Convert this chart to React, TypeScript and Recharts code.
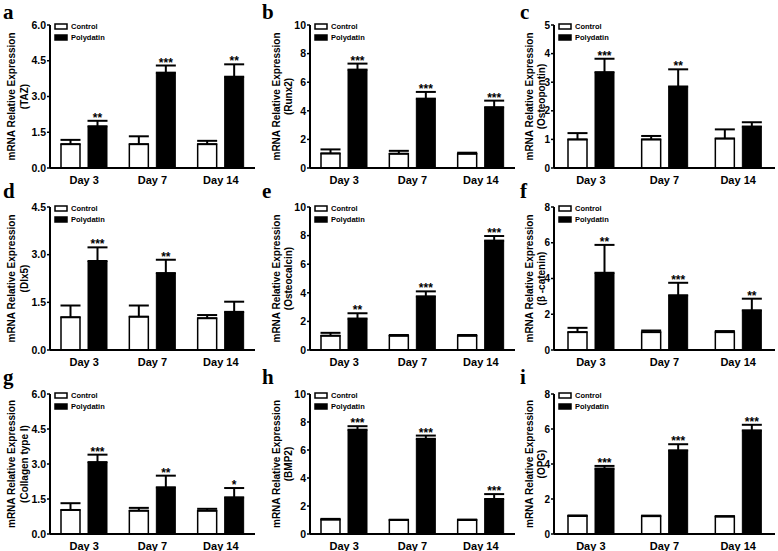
import React from 'react';
import { BarChart, Bar, XAxis, YAxis, ErrorBar, LabelList, Label } from 'recharts';

const DAYS = ['Day 3', 'Day 7', 'Day 14'];

// a - TAZ
const tazControl = [1.0, 1.0, 1.0];
const tazControlErr = [0.18, 0.33, 0.14];
const tazPoly = [1.75, 4.0, 3.83];
const tazPolyErr = [0.23, 0.3, 0.52];
const tazStars = ['**', '***', '**'];
const tazTicks = [0, 1.5, 3, 4.5, 6];

// b - Runx2
const runxControl = [1.02, 1.0, 1.0];
const runxControlErr = [0.28, 0.2, 0.07];
const runxPoly = [6.88, 4.85, 4.25];
const runxPolyErr = [0.42, 0.47, 0.46];
const runxStars = ['***', '***', '***'];
const runxTicks = [0, 2, 4, 6, 8, 10];

// c - Osteopontin
const opnControl = [1.0, 1.0, 1.03];
const opnControlErr = [0.22, 0.12, 0.32];
const opnPoly = [3.35, 2.85, 1.45];
const opnPolyErr = [0.47, 0.6, 0.15];
const opnStars = ['***', '**', ''];
const opnTicks = [0, 1, 2, 3, 4, 5];

// d - Dlx5
const dlxControl = [1.03, 1.05, 1.0];
const dlxControlErr = [0.37, 0.35, 0.1];
const dlxPoly = [2.8, 2.42, 1.2];
const dlxPolyErr = [0.43, 0.42, 0.32];
const dlxStars = ['***', '**', ''];
const dlxTicks = [0, 1.5, 3, 4.5];

// e - Osteocalcin
const ocnControl = [1.0, 1.0, 1.0];
const ocnControlErr = [0.2, 0.05, 0.05];
const ocnPoly = [2.2, 3.75, 7.65];
const ocnPolyErr = [0.37, 0.35, 0.32];
const ocnStars = ['**', '***', '***'];
const ocnTicks = [0, 2, 4, 6, 8, 10];

// f - beta-catenin
const bcatControl = [1.0, 1.0, 1.0];
const bcatControlErr = [0.24, 0.09, 0.06];
const bcatPoly = [4.32, 3.06, 2.22];
const bcatPolyErr = [1.56, 0.7, 0.65];
const bcatStars = ['**', '***', '**'];
const bcatTicks = [0, 2, 4, 6, 8];

// g - Collagen type I
const colControl = [1.03, 1.0, 1.0];
const colControlErr = [0.29, 0.12, 0.08];
const colPoly = [3.08, 2.0, 1.57];
const colPolyErr = [0.32, 0.5, 0.4];
const colStars = ['***', '**', '*'];
const colTicks = [0, 1.5, 3, 4.5, 6];

// h - BMP2
const bmpControl = [1.03, 1.0, 1.0];
const bmpControlErr = [0.05, 0.02, 0.03];
const bmpPoly = [7.45, 6.8, 2.5];
const bmpPolyErr = [0.25, 0.23, 0.35];
const bmpStars = ['***', '***', '***'];
const bmpTicks = [0, 2, 4, 6, 8, 10];

// i - OPG
const opgControl = [1.03, 1.02, 1.0];
const opgControlErr = [0.03, 0.03, 0.02];
const opgPoly = [3.74, 4.78, 5.92];
const opgPolyErr = [0.15, 0.35, 0.32];
const opgStars = ['***', '***', '***'];
const opgTicks = [0, 2, 4, 6, 8];

const FONT = '"Liberation Sans", Arial, sans-serif';

const COLS = [
  { x0: 0, w: 260, axisX: 50, right: 255, l1: 11, l2: 24, letterX: 3, tickFont: 10.5 },
  { x0: 260, w: 258, axisX: 310, right: 515, l1: 276, l2: 288, letterX: 262, tickFont: 10.5 },
  { x0: 518, w: 260, axisX: 554, right: 775, l1: 529, l2: 541, letterX: 520, tickFont: 10 },
];
const ROWS = [
  { y0: 0, top: 25, bottom: 168, letterY: 19 },
  { y0: 182, top: 207, bottom: 350, letterY: 198 },
  { y0: 368, top: 394, bottom: 534, letterY: 384 },
];

const X_AXIS_H = 18;
const EXTRA_BOTTOM = 4;

interface PanelProps {
  col: number;
  row: number;
  gene: string;
  ticks: number[];
  control: number[];
  controlErr: number[];
  poly: number[];
  polyErr: number[];
  stars: string[];
}

function Panel({ col, row, gene, ticks, control, controlErr, poly, polyErr, stars }: PanelProps) {
  const c = COLS[col];
  const r = ROWS[row];
  const h = r.bottom - r.y0 + X_AXIS_H + EXTRA_BOTTOM;
  const data = DAYS.map((day, i) => ({
    day,
    control: control[i],
    controlErr: [0, controlErr[i]],
    poly: poly[i],
    polyErr: [0, polyErr[i]],
  }));
  const decimals = ticks.some((t) => t % 1 !== 0) ? 1 : 0;
  const margin = {
    top: r.top - r.y0,
    left: 0,
    right: c.x0 + c.w - c.right,
    bottom: EXTRA_BOTTOM,
  };
  const midY = (r.top + r.bottom) / 2 - r.y0;
  const legX = c.axisX - c.x0 + 5;
  const legY = r.top - r.y0;

  // y label (two lines) and the small legend in the top-left of the plot
  const decorations = () => (
    <g>
      <text
        transform={`translate(${c.l1 - c.x0},${midY}) rotate(-90)`}
        textAnchor="middle"
        dominantBaseline="central"
        fontFamily={FONT}
        fontWeight="bold"
        fontSize={10}
        fill="#000"
      >
        mRNA Relative Expression
      </text>
      <text
        transform={`translate(${c.l2 - c.x0},${midY}) rotate(-90)`}
        textAnchor="middle"
        dominantBaseline="central"
        fontFamily={FONT}
        fontWeight="bold"
        fontSize={10}
        fill="#000"
      >
        {`(${gene})`}
      </text>
      <rect x={legX} y={legY - 1} width={12} height={5} fill="#fff" stroke="#000" strokeWidth={1.5} />
      <text x={legX + 16} y={legY + 1.5} dominantBaseline="central" fontFamily={FONT} fontWeight="bold" fontSize={7.5} fill="#000">
        Control
      </text>
      <rect x={legX} y={legY + 10} width={12} height={5} fill="#000" stroke="#000" strokeWidth={1.5} />
      <text x={legX + 16} y={legY + 12.5} dominantBaseline="central" fontFamily={FONT} fontWeight="bold" fontSize={7.5} fill="#000">
        Polydatin
      </text>
    </g>
  );

  const renderStars = (props: any) => {
    const { x, y, width, height, value } = props;
    let idx = props.index;
    if (idx === undefined || idx === null) idx = poly.indexOf(value);
    const s = stars[idx];
    if (!s) return null;
    const perUnit = height / value;
    const top = y - polyErr[idx] * perUnit;
    return (
      <text
        x={x + width / 2}
        y={top + 1}
        textAnchor="middle"
        fontFamily={FONT}
        fontWeight="bold"
        fontSize={12}
        fill="#000"
      >
        {s}
      </text>
    );
  };

  return (
    <div style={{ position: 'absolute', left: c.x0, top: r.y0 }}>
      <BarChart width={c.w} height={h} data={data} margin={margin} barGap={8} barSize={19}>
        <XAxis
          dataKey="day"
          height={X_AXIS_H}
          axisLine={{ stroke: '#000', strokeWidth: 2 }}
          tickLine={false}
          tick={{ fill: '#000', fontSize: 11, fontWeight: 'bold', fontFamily: FONT }}
          tickMargin={2}
          interval={0}
        />
        <YAxis
          width={c.axisX - c.x0}
          domain={[0, ticks[ticks.length - 1]]}
          ticks={ticks}
          allowDataOverflow
          axisLine={{ stroke: '#000', strokeWidth: 2 }}
          tickLine={{ stroke: '#000', strokeWidth: 1.5 }}
          tickSize={3}
          tickMargin={1}
          tick={{ fill: '#000', fontSize: c.tickFont, fontWeight: 'bold', fontFamily: FONT }}
          tickFormatter={(v: number) => v.toFixed(decimals)}
        >
          <Label content={decorations} />
        </YAxis>
        <Bar dataKey="control" fill="#fff" stroke="#000" strokeWidth={1.5} isAnimationActive={false}>
          <ErrorBar dataKey="controlErr" width={10} stroke="#000" strokeWidth={2} isAnimationActive={false} />
        </Bar>
        <Bar dataKey="poly" fill="#000" stroke="#000" strokeWidth={1} isAnimationActive={false}>
          <ErrorBar dataKey="polyErr" width={10} stroke="#000" strokeWidth={2} isAnimationActive={false} />
          <LabelList dataKey="poly" content={renderStars} />
        </Bar>
      </BarChart>
    </div>
  );
}

const LETTERS = ['a', 'b', 'c', 'd', 'e', 'f', 'g', 'h', 'i'];

export default function App() {
  return (
    <div style={{ position: 'absolute', left: 0, top: 0, width: 778, height: 551, background: '#fff', overflow: 'hidden' }}>
      <Panel col={0} row={0} gene="TAZ" ticks={tazTicks} control={tazControl} controlErr={tazControlErr} poly={tazPoly} polyErr={tazPolyErr} stars={tazStars} />
      <Panel col={1} row={0} gene="Runx2" ticks={runxTicks} control={runxControl} controlErr={runxControlErr} poly={runxPoly} polyErr={runxPolyErr} stars={runxStars} />
      <Panel col={2} row={0} gene="Osteopontin" ticks={opnTicks} control={opnControl} controlErr={opnControlErr} poly={opnPoly} polyErr={opnPolyErr} stars={opnStars} />
      <Panel col={0} row={1} gene="Dlx5" ticks={dlxTicks} control={dlxControl} controlErr={dlxControlErr} poly={dlxPoly} polyErr={dlxPolyErr} stars={dlxStars} />
      <Panel col={1} row={1} gene="Osteocalcin" ticks={ocnTicks} control={ocnControl} controlErr={ocnControlErr} poly={ocnPoly} polyErr={ocnPolyErr} stars={ocnStars} />
      <Panel col={2} row={1} gene="β -catenin" ticks={bcatTicks} control={bcatControl} controlErr={bcatControlErr} poly={bcatPoly} polyErr={bcatPolyErr} stars={bcatStars} />
      <Panel col={0} row={2} gene="Collagen type I" ticks={colTicks} control={colControl} controlErr={colControlErr} poly={colPoly} polyErr={colPolyErr} stars={colStars} />
      <Panel col={1} row={2} gene="BMP2" ticks={bmpTicks} control={bmpControl} controlErr={bmpControlErr} poly={bmpPoly} polyErr={bmpPolyErr} stars={bmpStars} />
      <Panel col={2} row={2} gene="OPG" ticks={opgTicks} control={opgControl} controlErr={opgControlErr} poly={opgPoly} polyErr={opgPolyErr} stars={opgStars} />
      <svg width={778} height={551} style={{ position: 'absolute', left: 0, top: 0, pointerEvents: 'none' }}>
        {LETTERS.map((l, i) => (
          <text
            key={l}
            x={COLS[i % 3].letterX}
            y={ROWS[Math.floor(i / 3)].letterY}
            fontFamily='"Liberation Serif", "Times New Roman", serif'
            fontWeight="bold"
            fontSize={21}
            fill="#000"
          >
            {l}
          </text>
        ))}
      </svg>
    </div>
  );
}
